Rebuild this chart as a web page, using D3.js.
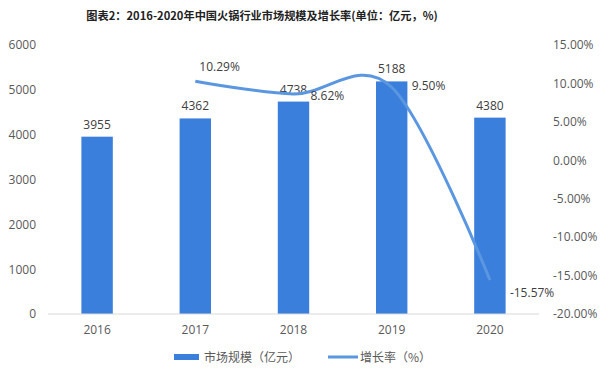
<!DOCTYPE html>
<html><head><meta charset="utf-8">
<script src="https://cdn.jsdelivr.net/npm/d3@7/dist/d3.min.js"></script>
<style>body{margin:0;background:#fff}</style>
</head><body>
<script>
const years = ["2016","2017","2018","2019","2020"];
const marketSize = [3955, 4362, 4738, 5188, 4380];
const growthYears = ["2017","2018","2019","2020"];
const growthRate = [10.29, 8.62, 9.50, -15.57];
const leftTicks = [0,1000,2000,3000,4000,5000,6000];
const rightTicks = [-20,-15,-10,-5,0,5,10,15];

const W=600,H=381;
const svg=d3.select("body").append("svg").attr("width",W).attr("height",H)
  .style("font-family","'Liberation Sans','Noto Sans CJK SC',sans-serif");
svg.append("rect").attr("width",W).attr("height",H).attr("fill","#fff");

const plotTop=45,plotBottom=314;
const x=d3.scaleBand().domain(years).range([48,539]).paddingInner(0.68).paddingOuter(0.34);
const yL=d3.scaleLinear().domain([0,6000]).range([plotBottom,plotTop]);
const yR=d3.scaleLinear().domain([-20,15]).range([plotBottom,plotTop]);

svg.append("text").attr("x",262).attr("y",20).attr("text-anchor","middle")
  .attr("font-family","'Noto Sans CJK SC',sans-serif").attr("font-weight","bold")
  .attr("font-size",11.2).attr("fill","#222")
  .text("图表2：2016-2020年中国火锅行业市场规模及增长率(单位：亿元，%)");

// left axis
const gL=svg.append("g").attr("transform","translate(36,0)")
  .call(d3.axisLeft(yL).tickValues(leftTicks).tickSize(0).tickPadding(0).tickFormat(d=>String(d)));
gL.select(".domain").remove();
gL.selectAll("text").attr("font-size",12).attr("fill","#595959")
  .attr("font-family","'Open Sans',sans-serif");

// right axis
const gR=svg.append("g").attr("transform","translate(553,0)")
  .call(d3.axisRight(yR).tickValues(rightTicks).tickSize(0).tickPadding(0)
    .tickFormat(d=>d.toFixed(2)+"%"));
gR.select(".domain").remove();
gR.selectAll("text").attr("font-size",12).attr("fill","#595959")
  .attr("font-family","'Open Sans',sans-serif");

// bars
svg.selectAll(".bar").data(years).enter().append("rect")
  .attr("x",d=>x(d)).attr("width",x.bandwidth())
  .attr("y",(d,i)=>yL(marketSize[i])).attr("height",(d,i)=>plotBottom-yL(marketSize[i]))
  .attr("fill","#3b7fdd");

// baseline
svg.append("line").attr("x1",48).attr("x2",539).attr("y1",plotBottom).attr("y2",plotBottom)
  .attr("stroke","#d9d9d9").attr("stroke-width",1);

// x labels
const gX=svg.append("g").attr("transform",`translate(0,${plotBottom})`)
  .call(d3.axisBottom(x).tickSize(0).tickPadding(11));
gX.select(".domain").remove();
gX.selectAll("text").attr("font-size",12).attr("fill","#595959")
  .attr("font-family","'Open Sans',sans-serif");

// bar labels
svg.selectAll(".bl").data(years).enter().append("text")
  .attr("x",d=>x(d)+x.bandwidth()/2).attr("y",(d,i)=>yL(marketSize[i])-8)
  .attr("text-anchor","middle").attr("font-size",12).attr("fill","#404040")
  .attr("font-family","'Open Sans',sans-serif")
  .text((d,i)=>marketSize[i]);

// line
const pts=growthYears.map((d,i)=>[x(d)+x.bandwidth()/2,yR(growthRate[i])]);
svg.append("path").attr("d",d3.line().curve(d3.curveCatmullRom.alpha(0))(pts))
  .attr("fill","none").attr("stroke","#5b97e0").attr("stroke-width",3);

const offs=[[4,-10,"start"],[17,6,"start"],[20,3,"start"],[20,17,"start"]];
svg.selectAll(".ll").data(growthYears).enter().append("text")
  .attr("x",(d,i)=>pts[i][0]+offs[i][0]).attr("y",(d,i)=>pts[i][1]+offs[i][1])
  .attr("text-anchor",(d,i)=>offs[i][2]).attr("font-size",12).attr("fill","#404040")
  .attr("font-family","'Open Sans',sans-serif")
  .text((d,i)=>growthRate[i].toFixed(2)+"%");

// legend
const lg=svg.append("g");
lg.append("rect").attr("x",174).attr("y",354).attr("width",25).attr("height",6).attr("fill","#3b7fdd");
lg.append("text").attr("x",204).attr("y",362).attr("font-size",12).attr("fill","#595959")
  .attr("font-family","'Noto Sans CJK SC',sans-serif").text("市场规模（亿元）");
lg.append("line").attr("x1",328).attr("x2",358).attr("y1",357).attr("y2",357)
  .attr("stroke","#5b97e0").attr("stroke-width",3);
lg.append("text").attr("x",360).attr("y",362).attr("font-size",12).attr("fill","#595959")
  .attr("font-family","'Noto Sans CJK SC',sans-serif").text("增长率（%）");
</script>
</body></html>
